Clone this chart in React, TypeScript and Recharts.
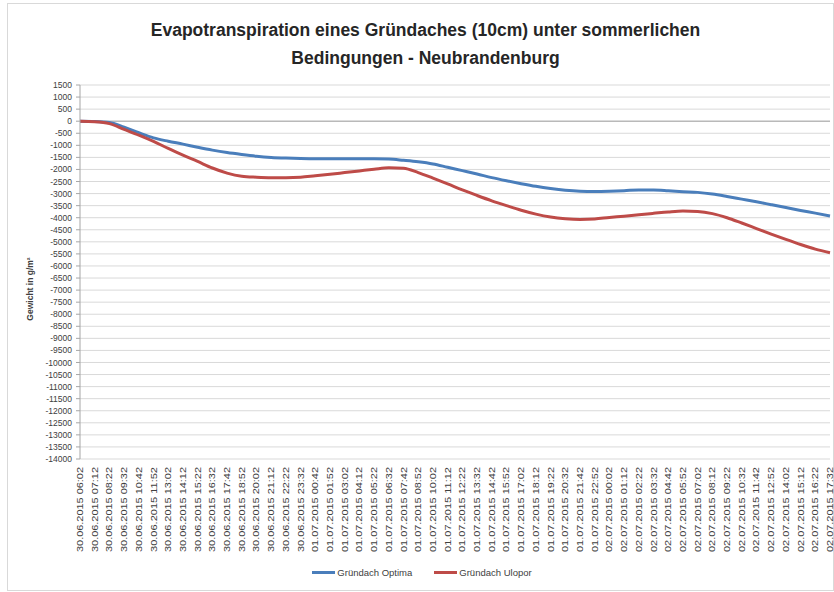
import React from 'react';
import { LineChart, Line, XAxis, YAxis, CartesianGrid, ReferenceLine, Legend } from 'recharts';

const timeLabels = [
  '30.06.2015 06:02', '30.06.2015 07:12', '30.06.2015 08:22', '30.06.2015 09:32', '30.06.2015 10:42', '30.06.2015 11:52',
  '30.06.2015 13:02', '30.06.2015 14:12', '30.06.2015 15:22', '30.06.2015 16:32', '30.06.2015 17:42', '30.06.2015 18:52',
  '30.06.2015 20:02', '30.06.2015 21:12', '30.06.2015 22:22', '30.06.2015 23:32',
  '01.07.2015 00:42', '01.07.2015 01:52', '01.07.2015 03:02', '01.07.2015 04:12', '01.07.2015 05:22', '01.07.2015 06:32',
  '01.07.2015 07:42', '01.07.2015 08:52', '01.07.2015 10:02', '01.07.2015 11:12', '01.07.2015 12:22', '01.07.2015 13:32',
  '01.07.2015 14:42', '01.07.2015 15:52', '01.07.2015 17:02', '01.07.2015 18:12', '01.07.2015 19:22', '01.07.2015 20:32',
  '01.07.2015 21:42', '01.07.2015 22:52',
  '02.07.2015 00:02', '02.07.2015 01:12', '02.07.2015 02:22', '02.07.2015 03:32', '02.07.2015 04:42', '02.07.2015 05:52',
  '02.07.2015 07:02', '02.07.2015 08:12', '02.07.2015 09:22', '02.07.2015 10:32', '02.07.2015 11:42', '02.07.2015 12:52',
  '02.07.2015 14:02', '02.07.2015 15:12', '02.07.2015 16:22', '02.07.2015 17:32',
];

// Gründach Optima
const optima = [
  0, -10, -50, -250, -480, -690, -830, -950, -1080, -1200, -1300, -1380, -1450, -1500, -1530, -1550,
  -1560, -1560, -1560, -1560, -1560, -1570, -1620, -1680, -1770, -1910, -2050, -2190, -2340, -2470, -2590, -2700,
  -2790, -2860, -2900, -2910, -2900, -2880, -2850, -2850, -2880, -2920, -2950, -3020, -3120, -3230, -3340, -3460,
  -3580, -3700, -3810, -3930,
];

// Gründach Ulopor
const ulopor = [
  0, -20, -100, -340, -580, -840, -1130, -1410, -1670, -1940, -2150, -2280, -2320, -2340, -2340, -2320,
  -2260, -2200, -2130, -2060, -1990, -1930, -1950, -2130, -2360, -2600, -2850, -3080, -3300, -3500, -3690, -3850,
  -3970, -4040, -4070, -4050, -3990, -3940, -3880, -3820, -3760, -3720, -3740, -3830, -4000, -4220, -4450, -4680,
  -4900, -5110, -5300, -5450,
];

const yTicks = [
  1500, 1000, 500, 0, -500, -1000, -1500, -2000, -2500, -3000, -3500, -4000, -4500, -5000, -5500, -6000,
  -6500, -7000, -7500, -8000, -8500, -9000, -9500, -10000, -10500, -11000, -11500, -12000, -12500, -13000,
  -13500, -14000,
];

const data = timeLabels.map((label, i) => ({ label, optima: optima[i], ulopor: ulopor[i] }));

const FONT = '"Liberation Sans", Arial, sans-serif';
const BLUE = '#4A7EBB';
const RED = '#BE4B48';

const XTick = ({ x, y, payload }: any) => (
  <text
    transform={`translate(${x + 3},${y}) rotate(-90)`}
    textAnchor="end"
    fontSize={8.5}
    fontFamily={FONT}
    fill="#404040"
    textLength={85}
    lengthAdjust="spacingAndGlyphs"
  >
    {payload.value}
  </text>
);

const YLabel = () => (
  <text
    transform="translate(33,289) rotate(-90)"
    textAnchor="middle"
    fontSize={8.5}
    fontWeight="bold"
    fontFamily={FONT}
    fill="#404040"
  >
    Gewicht in g/m²
  </text>
);

const LegendContent = () => (
  <div style={{ display: 'flex', justifyContent: 'center', paddingLeft: 10, fontFamily: FONT, fontSize: 9.5, color: '#404040' }}>
    {[{ name: 'Gründach Optima', color: BLUE }, { name: 'Gründach Ulopor', color: RED }].map(item => (
      <div key={item.name} style={{ display: 'flex', alignItems: 'center', margin: '0 11px' }}>
        <span style={{ display: 'inline-block', width: 23, height: 3, background: item.color, marginRight: 2 }} />
        <span>{item.name}</span>
      </div>
    ))}
  </div>
);

const App: React.FC = () => {
  return (
    <div style={{ position: 'absolute', left: 0, top: 0, width: 834, height: 592, background: '#fff', fontFamily: FONT }}>
      <div style={{ position: 'absolute', left: 7, top: 3, width: 825, height: 586, border: '1px solid #d9d9d9' }} />
      <div style={{ position: 'absolute', left: 0, top: 16, width: 851, textAlign: 'center', fontWeight: 'bold', fontSize: 17.5, lineHeight: '28px', color: '#262626' }}>
        Evapotranspiration eines Gründaches (10cm) unter sommerlichen<br />Bedingungen - Neubrandenburg
      </div>
      <LineChart width={834} height={592} data={data} margin={{ top: 85, right: 4, left: 0, bottom: 33 }}>
        <CartesianGrid vertical={false} stroke="#d9d9d9" />
        <XAxis
          dataKey="label"
          interval={0}
          height={100}
          axisLine={false}
          tickLine={false}
          padding={{ left: 0, right: 0 }}
          tick={<XTick />}
        />
        <YAxis
          width={80}
          domain={[-14000, 1500]}
          ticks={yTicks}
          interval={0}
          tickSize={4}
          tickMargin={4}
          stroke="#a6a6a6"
          tick={{ fontSize: 8.5, fill: '#404040', fontFamily: FONT }}
          label={<YLabel />}
        />
        <ReferenceLine y={0} stroke="#a6a6a6" />
        <Legend verticalAlign="middle" align="center" wrapperStyle={{ top: 567, left: 0, width: 834 }} content={<LegendContent />} />
        <Line type="monotone" dataKey="optima" name="Gründach Optima" stroke={BLUE} strokeWidth={3} dot={false} isAnimationActive={false} />
        <Line type="monotone" dataKey="ulopor" name="Gründach Ulopor" stroke={RED} strokeWidth={3} dot={false} isAnimationActive={false} />
      </LineChart>
    </div>
  );
};

export default App;
